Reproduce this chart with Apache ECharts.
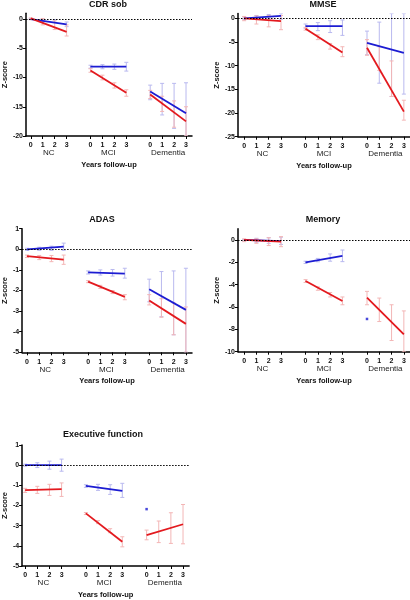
<!DOCTYPE html>
<html><head><meta charset="utf-8">
<script src="https://cdn.jsdelivr.net/npm/echarts@6/dist/echarts.min.js"></script>
<style>html,body{margin:0;padding:0;background:#fff}#c{width:410px;height:600px}</style>
</head><body><div id="c"></div><script>
// ---------- data ----------
const years = [0, 1, 2, 3];
const groups = ['NC', 'MCI', 'Dementia'];
const xTickLabels = ['0', '1', '2', '3'];

// CDR sob : line start (year 0) / end (year 3) per group
const cdrBlueStart = [0.0, -8.15, -12.4];
const cdrBlueEnd   = [-0.9, -8.15, -16.1];
const cdrRedStart  = [0.1, -8.8, -12.9];
const cdrRedEnd    = [-2.2, -12.6, -17.5];
const cdrBlueLow  = [[-0.1, -0.35, -0.6, -1.3], [-8.4, -8.5, -8.6, -8.9], [-13.8, -16.4, -18.7, -20]];
const cdrBlueHigh = [[0.1, 0.0, -0.1, -0.5], [-7.9, -7.8, -7.7, -7.4], [-11.3, -11.0, -11.0, -10.9]];
const cdrRedLow   = [[-0.1, -1.0, -1.8, -2.9], [-9.1, -10.4, -11.8, -13.2], [-13.6, -15.8, -18.5, -20]];
const cdrRedHigh  = [[0.2, 0.1, -0.3, -1.0], [-8.5, -9.6, -10.9, -12.1], [-12.2, -13.2, -14.0, -15.0]];

// MMSE
const mmseBlueStart = [0.0, -1.65, -5.2];
const mmseBlueEnd   = [0.5, -1.65, -7.3];
const mmseRedStart  = [0.0, -2.2, -6.2];
const mmseRedEnd    = [-0.6, -7.2, -19.7];
const mmseBlueLow  = [[-0.3, -0.2, -0.1, -0.2], [-2.1, -2.6, -3.0, -3.6], [-7.7, -13.7, -16.5, -16.0]];
const mmseBlueHigh = [[0.3, 0.6, 0.8, 1.0], [-1.2, -0.9, -0.5, -0.35], [-2.7, -0.8, 1.0, 1.0]];
const mmseRedLow   = [[-0.5, -1.2, -1.8, -2.4], [-2.5, -4.5, -6.5, -8.1], [-7.8, -11.0, -16.5, -21.5]];
const mmseRedHigh  = [[0.4, 0.5, 0.6, 0.6], [-1.9, -3.5, -5.3, -6.0], [-4.5, -6.0, -9.0, -17.3]];

// ADAS
const adasBlueStart = [0.0, -1.12, -1.94];
const adasBlueEnd   = [0.13, -1.18, -2.94];
const adasRedStart  = [-0.33, -1.57, -2.48];
const adasRedEnd    = [-0.5, -2.31, -3.62];
const adasBlueLow  = [[-0.05, -0.05, -0.05, -0.05], [-1.2, -1.25, -1.3, -1.4], [-2.55, -3.27, -4.15, -5.0]];
const adasBlueHigh = [[0.05, 0.1, 0.15, 0.3], [-1.05, -1.0, -0.98, -0.92], [-1.45, -1.08, -1.05, -0.92]];
const adasRedLow   = [[-0.4, -0.5, -0.6, -0.73], [-1.62, -1.9, -2.15, -2.45], [-2.7, -3.3, -4.15, -5.0]];
const adasRedHigh  = [[-0.28, -0.3, -0.3, -0.28], [-1.52, -1.75, -2.0, -2.2], [-2.2, -2.4, -2.6, -2.8]];

// Memory (blue Dementia: single point at year 0)
const memBlueStart = [0.0, -2.0, -7.07];
const memBlueEnd   = [-0.1, -1.43, null];
const memRedStart  = [0.0, -3.67, -5.16];
const memRedEnd    = [-0.15, -5.46, -8.45];
const memBlueLow  = [[-0.1, -0.2, -0.3, -0.4], [-2.1, -1.95, -1.9, -1.94], [null, null, null, null]];
const memBlueHigh = [[0.05, 0.15, 0.2, 0.25], [-1.9, -1.65, -1.25, -0.9], [null, null, null, null]];
const memRedLow   = [[-0.15, -0.3, -0.5, -0.6], [-3.8, -4.5, -5.1, -5.8], [-5.8, -7.3, -9.0, -10.0]];
const memRedHigh  = [[0.1, 0.1, 0.2, 0.3], [-3.55, -4.2, -4.7, -5.1], [-4.6, -5.2, -5.8, -6.35]];

// Executive function (blue Dementia: single point at year 0)
const exBlueStart = [0.0, -1.03, -2.18];
const exBlueEnd   = [0.0, -1.27, null];
const exRedStart  = [-1.24, -2.39, -3.47];
const exRedEnd    = [-1.19, -3.8, -2.93];
const exBlueLow  = [[-0.05, -0.12, -0.2, -0.3], [-1.1, -1.25, -1.45, -1.6], [null, null, null, null]];
const exBlueHigh = [[0.05, 0.12, 0.2, 0.3], [-0.97, -0.95, -0.97, -0.9], [null, null, null, null]];
const exRedLow   = [[-1.35, -1.4, -1.5, -1.55], [-2.45, -2.9, -3.35, -4.05], [-3.7, -3.84, -3.88, -3.9]];
const exRedHigh  = [[-1.15, -1.05, -0.95, -0.88], [-2.35, -2.75, -3.15, -3.55], [-3.22, -2.77, -2.36, -1.95]];

// ---------- layout / styles ----------
const GROUP_STEP = 5;
const BLUE = '#1c1cd2', RED = '#e3191e';
const BLUE_ERR = '#b9b9ef', RED_ERR = '#f3b6b6';
const FONT = "'Liberation Sans', Arial, sans-serif";

const panels = [
  { title: 'CDR sob', tx: 108, ty: 5, grid: {left: 22, top: 13.2, width: 170, height: 122.8}, xmin: -0.4, ymin: -20, ymax: 1, yint: 5, nameGapY: 13,
    bS: cdrBlueStart, bE: cdrBlueEnd, rS: cdrRedStart, rE: cdrRedEnd, bL: cdrBlueLow, bH: cdrBlueHigh, rL: cdrRedLow, rH: cdrRedHigh },
  { title: 'MMSE', tx: 323, ty: 5, grid: {left: 238, top: 13.6, width: 172, height: 123.1}, xmin: -0.5, ymin: -25, ymax: 1, yint: 5, nameGapY: 15,
    bS: mmseBlueStart, bE: mmseBlueEnd, rS: mmseRedStart, rE: mmseRedEnd, bL: mmseBlueLow, bH: mmseBlueHigh, rL: mmseRedLow, rH: mmseRedHigh },
  { title: 'ADAS', tx: 102, ty: 220, grid: {left: 22, top: 228.7, width: 170, height: 123.6}, xmin: -0.4, ymin: -5, ymax: 1, yint: 1, nameGapY: 13,
    bS: adasBlueStart, bE: adasBlueEnd, rS: adasRedStart, rE: adasRedEnd, bL: adasBlueLow, bH: adasBlueHigh, rL: adasRedLow, rH: adasRedHigh },
  { title: 'Memory', tx: 323, ty: 219.5, grid: {left: 238, top: 228.8, width: 172, height: 122.9}, xmin: -0.5, ymin: -10, ymax: 1, yint: 2, nameGapY: 15,
    bS: memBlueStart, bE: memBlueEnd, rS: memRedStart, rE: memRedEnd, bL: memBlueLow, bH: memBlueHigh, rL: memRedLow, rH: memRedHigh },
  { title: 'Executive function', tx: 103, ty: 435, grid: {left: 20.7, top: 445, width: 168.4, height: 122.4}, xmin: -0.25, ymin: -5, ymax: 1, yint: 1, nameGapY: 13,
    bS: exBlueStart, bE: exBlueEnd, rS: exRedStart, rE: exRedEnd, bL: exBlueLow, bH: exBlueHigh, rL: exRedLow, rH: exRedHigh }
];

const yearTickValues = [];
groups.forEach((g, gi) => years.forEach(y => yearTickValues.push(gi * GROUP_STEP + y)));
const groupCenters = groups.map((g, gi) => gi * GROUP_STEP + 1.5);

function errRender(params, api) {
  const x = api.value(0), lo = api.value(1), hi = api.value(2);
  const p1 = api.coord([x, hi]), p2 = api.coord([x, lo]);
  const w = 2;
  const style = {stroke: api.visual('color'), lineWidth: 1};
  return {type: 'group', children: [
    {type: 'line', shape: {x1: p1[0], y1: p1[1], x2: p2[0], y2: p2[1]}, style},
    {type: 'line', shape: {x1: p1[0] - w, y1: p1[1], x2: p1[0] + w, y2: p1[1]}, style},
    {type: 'line', shape: {x1: p2[0] - w, y1: p2[1], x2: p2[0] + w, y2: p2[1]}, style}
  ]};
}

const option = {
  animation: false, backgroundColor: '#fff',
  textStyle: {fontFamily: FONT},
  grid: [], xAxis: [], yAxis: [], series: [], graphic: []
};

panels.forEach((p, pi) => {
  const yTicks = [];
  for (let v = p.ymin; v <= p.ymax + 1e-9; v += p.yint) yTicks.push(v);
  option.grid.push(Object.assign({containLabel: false}, p.grid));
  option.xAxis.push({
    type: 'value', gridIndex: pi, min: p.xmin, max: 13.5, position: 'bottom',
    axisLine: {show: true, onZero: false, lineStyle: {color: '#000', width: 1.5}},
    axisTick: {show: true, customValues: yearTickValues, length: 3, lineStyle: {color: '#000', width: 1}},
    axisLabel: {show: true, customValues: yearTickValues, margin: 6,
      formatter: v => xTickLabels[Math.round(v) % GROUP_STEP],
      fontSize: 7, fontWeight: 'bold', color: '#111', fontFamily: FONT},
    splitLine: {show: false}
  });
  option.xAxis.push({
    type: 'value', gridIndex: pi, min: p.xmin, max: 13.5, position: 'bottom', offset: 0,
    axisLine: {show: false}, axisTick: {show: false}, splitLine: {show: false},
    axisLabel: {show: true, customValues: groupCenters, margin: 13,
      formatter: v => groups[Math.round((v - 1.5) / GROUP_STEP)],
      fontSize: 8, color: '#222', fontFamily: FONT},
    name: 'Years follow-up', nameLocation: 'middle', nameGap: 25,
    nameTextStyle: {fontSize: 7.5, fontWeight: 'bold', color: '#111', fontFamily: FONT}
  });
  option.yAxis.push({
    type: 'value', gridIndex: pi, min: p.ymin, max: p.ymax, interval: p.yint,
    axisLine: {show: true, onZero: false, lineStyle: {color: '#000', width: 1.5}},
    axisTick: {show: true, customValues: yTicks, length: 3, lineStyle: {color: '#000', width: 1}},
    axisLabel: {customValues: yTicks, fontSize: 7, fontWeight: 'bold', color: '#111', margin: 3, fontFamily: FONT},
    splitLine: {show: false},
    name: 'Z-score', nameLocation: 'middle', nameGap: p.nameGapY,
    nameTextStyle: {fontSize: 7.5, fontWeight: 'bold', color: '#111', fontFamily: FONT}
  });
  const xi = pi * 2, yi = pi;

  // error bars
  const errData = (L, H) => {
    const out = [];
    groups.forEach((g, gi) => years.forEach((y, k) => {
      if (L[gi][k] !== null && H[gi][k] !== null) out.push([gi * GROUP_STEP + y, L[gi][k], H[gi][k]]);
    }));
    return out;
  };
  [[p.bL, p.bH, BLUE_ERR], [p.rL, p.rH, RED_ERR]].forEach(([L, H, col]) => {
    option.series.push({
      type: 'custom', xAxisIndex: xi, yAxisIndex: yi, renderItem: errRender, clip: true,
      itemStyle: {color: col}, encode: {x: 0, y: [1, 2]}, data: errData(L, H), z: 2, silent: true
    });
  });

  // reference dotted line at 0
  option.series.push({
    type: 'line', xAxisIndex: xi, yAxisIndex: yi, data: [], z: 1, silent: true,
    markLine: {silent: true, symbol: 'none', label: {show: false},
      lineStyle: {type: [1.5, 1.5], color: '#000', width: 1}, data: [{yAxis: 0}]}
  });

  // regression lines
  [[p.bS, p.bE, BLUE], [p.rS, p.rE, RED]].forEach(([S, E, col]) => {
    groups.forEach((g, gi) => {
      const x0 = gi * GROUP_STEP + years[0], x3 = gi * GROUP_STEP + years[3];
      if (E[gi] === null) {
        option.series.push({
          type: 'scatter', xAxisIndex: xi, yAxisIndex: yi, symbol: 'rect', symbolSize: 2.5,
          itemStyle: {color: col}, data: [[x0, S[gi]]], z: 4, silent: true
        });
      } else {
        option.series.push({
          type: 'line', xAxisIndex: xi, yAxisIndex: yi, symbol: 'none',
          lineStyle: {color: col, width: 1.8}, data: [[x0, S[gi]], [x3, E[gi]]], z: 4, silent: true
        });
      }
    });
  });

  option.graphic.push({
    type: 'text', x: p.tx, y: p.ty, silent: true,
    style: {text: p.title, textAlign: 'center', textVerticalAlign: 'middle',
      font: "bold 9px 'Liberation Sans', Arial, sans-serif", fill: '#111'}
  });
});

const chart = echarts.init(document.getElementById('c'), null, {renderer: 'canvas'});
chart.setOption(option);
</script></body></html>
